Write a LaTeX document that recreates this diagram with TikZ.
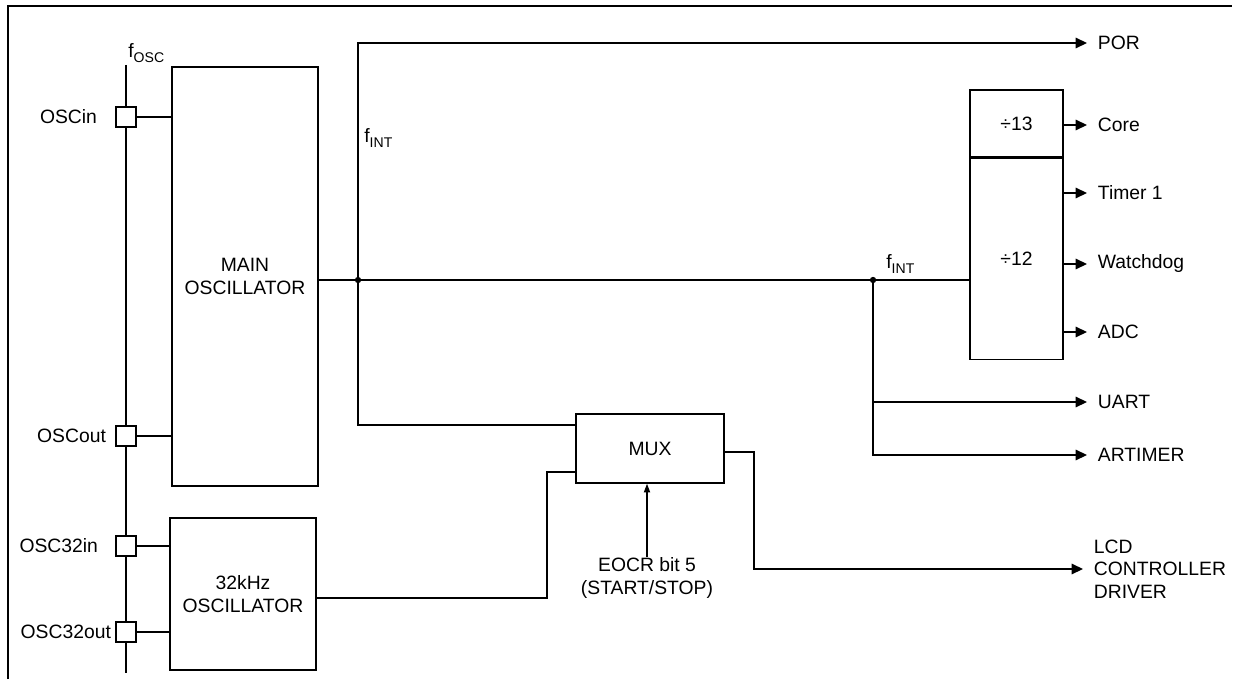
\documentclass[tikz,border=0pt]{standalone}
\usepackage{fontspec}
\setmainfont{Liberation Sans}
\usetikzlibrary{arrows.meta,positioning}
\newcommand{\fsub}[1]{f\raisebox{-0.45ex}{\footnotesize #1}}

\begin{document}
\begin{tikzpicture}[
  x=0.02cm, y=-0.02cm,
  font=\fontsize{11}{12.8}\selectfont,
  blk/.style={rectangle, draw, line width=0.8pt, inner sep=0pt, align=center},
  pinbox/.style={rectangle, draw, fill=white, line width=0.8pt,
                 minimum size=0.4cm, inner sep=0pt},
  lbl/.style={inner sep=0pt},
  outlbl/.style={anchor=west, inner ysep=0pt, inner xsep=6pt},
  wire/.style={line width=0.8pt},
  arr/.style={wire, -{Triangle[length=6.5pt,width=6pt]}},
  ctl/.style={wire, -{Triangle[length=5pt,width=3.5pt]}}
]
\useasboundingbox (0,0) rectangle (1233,679);
\draw[line width=1pt] (8,679) -- (8,6) -- (1232,6);

\coordinate (bustop) at (126,65);
\coordinate (busbot) at (126,673);
\coordinate (j1) at (358,280);
\coordinate (j2) at (873,280);
\coordinate (ftop) at (358,43);
\coordinate (muxa) at (576,425);
\coordinate (muxb) at (576,472);
\coordinate (o32) at (316,598);
\coordinate (bend32) at (547,598);
\coordinate (muxo) at (724,452);
\coordinate (bendlcd) at (754,569);

\draw[wire] (bustop) -- (busbot);

\node[blk, minimum width=2.92cm, minimum height=8.38cm] (mainosc) at (245,276.5)
  {MAIN\\OSCILLATOR};
\node[blk, minimum width=2.92cm, minimum height=3.04cm] (osc32) at (243,594)
  {32kHz\\OSCILLATOR};
\node[blk, minimum width=2.96cm, minimum height=1.38cm] (mux) at (650,448.5) {MUX};
\node[blk, minimum width=1.86cm, minimum height=1.34cm] (div13) at (1016.5,123.5) {÷13};
\node[blk, minimum width=1.86cm, minimum height=4.02cm, below=0pt of div13] (div12) {÷12};

\node[pinbox] (pina) at (126,117) {};
\node[pinbox] (pinb) at (126,436) {};
\node[pinbox] (pinc) at (126,546) {};
\node[pinbox] (pind) at (126,632) {};

\node[lbl, left=0.36cm of pina] (oscin) {OSCin};
\node[lbl, left=0.18cm of pinb] (oscout) {OSCout};
\node[lbl, left=0.34cm of pinc] (osc32in) {OSC32in};
\node[lbl, left=0.08cm of pind] (osc32out) {OSC32out};

\node[lbl, anchor=west] (fosc) at (128,53) {\fsub{OSC}};
\node[lbl, anchor=west] (fint1) at (364,138) {\fsub{INT}};
\node[lbl, anchor=west] (fint2) at (886,264) {\fsub{INT}};

\node[outlbl] (por) at (1087,43) {POR};
\node[outlbl] (core) at (1087,125) {Core};
\node[outlbl] (timer) at (1087,193) {Timer 1};
\node[outlbl] (wdog) at (1087,264) {Watchdog};
\node[outlbl] (adc) at (1087,332) {ADC};
\node[outlbl] (uart) at (1087,402) {UART};
\node[outlbl] (artimer) at (1087,455) {ARTIMER};
\node[outlbl, align=left] (lcd) at (1083,569) {LCD\\CONTROLLER\\DRIVER};
\node[lbl, align=center] (eocr) at (647,578) {EOCR bit 5\\(START/STOP)};

\draw[wire] (pina.east) -- (pina.east -| mainosc.west);
\draw[wire] (pinb.east) -- (pinb.east -| mainosc.west);
\draw[wire] (pinc.east) -- (pinc.east -| osc32.west);
\draw[wire] (pind.east) -- (pind.east -| osc32.west);

\draw[wire] (j1 -| mainosc.east) -- (j1) -- (j2) -- (j2 -| div12.west);
\draw[arr] (j1) -- (ftop) -- (por.west);
\draw[wire] (j1) |- (muxa);
\draw[wire] (o32) -- (bend32) |- (muxb);
\draw[arr] (muxo) -| (bendlcd) -- (lcd.west);
\draw[ctl] (eocr.north) -- (eocr.north |- mux.south);
\draw[arr] (j2) |- (uart.west);
\draw[arr] (j2) |- (artimer.west);

\draw[arr] (core.west -| div13.east) -- (core.west);
\draw[arr] (timer.west -| div12.east) -- (timer.west);
\draw[arr] (wdog.west -| div12.east) -- (wdog.west);
\draw[arr] (adc.west -| div12.east) -- (adc.west);

\fill (j1) circle (1.8pt);
\fill (j2) circle (1.8pt);
\end{tikzpicture}
\end{document}
